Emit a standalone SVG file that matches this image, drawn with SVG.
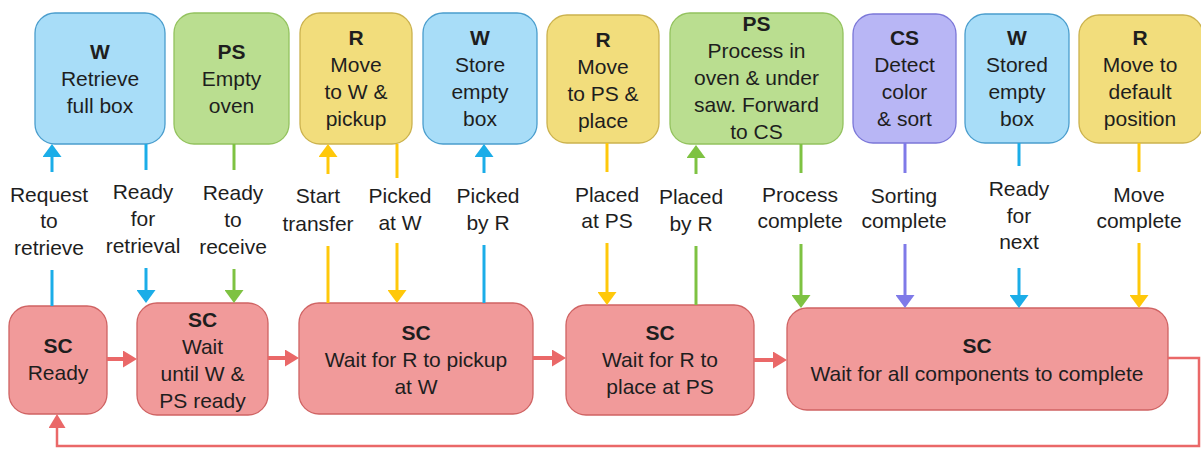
<svg xmlns="http://www.w3.org/2000/svg" width="1201" height="449" viewBox="0 0 1201 449">
<style>
text{font-family:"Liberation Sans",Arial,sans-serif;font-size:21px;fill:#1e1e1e;text-anchor:middle}
.b{font-weight:bold}
.w{fill:#A8DDF8;stroke:#4A9DCD;stroke-width:1.3}
.ps{fill:#BADE90;stroke:#93C25E;stroke-width:1.3}
.r{fill:#F2DD7C;stroke:#CBB24E;stroke-width:1.3}
.cs{fill:#B8B6F5;stroke:#7B77D8;stroke-width:1.3}
.sc{fill:#F19A9A;stroke:#CF6363;stroke-width:1.3}
.lb{stroke:#1BADE8;stroke-width:3;fill:none}
.lg{stroke:#7EC242;stroke-width:3;fill:none}
.ly{stroke:#FFC80A;stroke-width:3;fill:none}
.lp{stroke:#7F7AE8;stroke-width:3;fill:none}
.lr{stroke:#EA6868;stroke-width:4;fill:none}
.lf{stroke:#EA6868;stroke-width:2.5;fill:none}
</style>
<defs>
<marker id="mb" markerUnits="userSpaceOnUse" markerWidth="13" markerHeight="19" refX="3" refY="9.5" orient="auto"><path d="M0,0 L13,9.5 L0,19 z" fill="#1BADE8"/></marker>
<marker id="mg" markerUnits="userSpaceOnUse" markerWidth="13" markerHeight="19" refX="3" refY="9.5" orient="auto"><path d="M0,0 L13,9.5 L0,19 z" fill="#7EC242"/></marker>
<marker id="my" markerUnits="userSpaceOnUse" markerWidth="13" markerHeight="19" refX="3" refY="9.5" orient="auto"><path d="M0,0 L13,9.5 L0,19 z" fill="#FFC80A"/></marker>
<marker id="mp" markerUnits="userSpaceOnUse" markerWidth="13" markerHeight="19" refX="3" refY="9.5" orient="auto"><path d="M0,0 L13,9.5 L0,19 z" fill="#7F7AE8"/></marker>
<marker id="mr" markerUnits="userSpaceOnUse" markerWidth="14" markerHeight="17" refX="4" refY="8.5" orient="auto"><path d="M0,0 L14,8.5 L0,17 z" fill="#EA6868"/></marker>
</defs>

<g id="w1"><rect class="w" x="35" y="13" width="130" height="131" rx="20"/><text x="100" y="59" class="b">W</text><text x="100" y="86">Retrieve</text><text x="100" y="113">full box</text></g>
<g id="ps1"><rect class="ps" x="174" y="13" width="115" height="131" rx="20"/><text x="231.5" y="59" class="b">PS</text><text x="231.5" y="86">Empty</text><text x="231.5" y="113">oven</text></g>
<g id="r1"><rect class="r" x="300" y="13" width="112" height="131" rx="20"/><text x="356" y="45" class="b">R</text><text x="356" y="72">Move</text><text x="356" y="99">to W &amp;</text><text x="356" y="126">pickup</text></g>
<g id="w2"><rect class="w" x="423" y="13" width="114" height="131" rx="20"/><text x="480" y="45" class="b">W</text><text x="480" y="72">Store</text><text x="480" y="99">empty</text><text x="480" y="126">box</text></g>
<g id="r2"><rect class="r" x="547" y="15" width="112" height="128" rx="20"/><text x="603" y="47" class="b">R</text><text x="603" y="74">Move</text><text x="603" y="101">to PS &amp;</text><text x="603" y="128">place</text></g>
<g id="ps2"><rect class="ps" x="670" y="13" width="173" height="131" rx="20"/><text x="756.5" y="31" class="b">PS</text><text x="756.5" y="58">Process in</text><text x="756.5" y="85">oven &amp; under</text><text x="756.5" y="112">saw. Forward</text><text x="756.5" y="139">to CS</text></g>
<g id="cs1"><rect class="cs" x="853" y="14" width="103" height="129" rx="20"/><text x="904.5" y="45" class="b">CS</text><text x="904.5" y="72">Detect</text><text x="904.5" y="99">color</text><text x="904.5" y="126">&amp; sort</text></g>
<g id="w3"><rect class="w" x="965" y="14" width="104" height="129" rx="20"/><text x="1017" y="45" class="b">W</text><text x="1017" y="72">Stored</text><text x="1017" y="99">empty</text><text x="1017" y="126">box</text></g>
<g id="r3"><rect class="r" x="1079" y="15" width="124" height="128" rx="20"/><text x="1140" y="45" class="b">R</text><text x="1140" y="72">Move to</text><text x="1140" y="99">default</text><text x="1140" y="126">position</text></g>

<g id="sc1"><rect class="sc" x="9" y="306" width="98" height="108" rx="20"/><text x="58" y="353" class="b">SC</text><text x="58" y="380">Ready</text></g>
<g id="sc2"><rect class="sc" x="137" y="303" width="131" height="112" rx="20"/><text x="202.5" y="327" class="b">SC</text><text x="202.5" y="354">Wait</text><text x="202.5" y="381">until W &amp;</text><text x="202.5" y="408">PS ready</text></g>
<g id="sc3"><rect class="sc" x="299" y="303" width="234" height="111" rx="20"/><text x="416" y="340" class="b">SC</text><text x="416" y="367">Wait for R to pickup</text><text x="416" y="394">at W</text></g>
<g id="sc4"><rect class="sc" x="566" y="305" width="188" height="110" rx="20"/><text x="660" y="340" class="b">SC</text><text x="660" y="367">Wait for R to</text><text x="660" y="394">place at PS</text></g>
<g id="sc5"><rect class="sc" x="787" y="308" width="381" height="102" rx="20"/><text x="977" y="353" class="b">SC</text><text x="977" y="381">Wait for all components to complete</text></g>

<g id="connectors">
<line class="lb" x1="52" y1="172" x2="52" y2="154" marker-end="url(#mb)"/><line class="lb" x1="52" y1="270" x2="52" y2="306"/>
<line class="lb" x1="146" y1="144" x2="146" y2="170"/><line class="lb" x1="146" y1="268" x2="146" y2="293" marker-end="url(#mb)"/>
<line class="lg" x1="234" y1="144" x2="234" y2="170"/><line class="lg" x1="234" y1="269" x2="234" y2="293" marker-end="url(#mg)"/>
<line class="ly" x1="328" y1="174" x2="328" y2="154" marker-end="url(#my)"/><line class="ly" x1="328" y1="246" x2="328" y2="303"/>
<line class="ly" x1="397" y1="144" x2="397" y2="178"/><line class="ly" x1="397" y1="243" x2="397" y2="293" marker-end="url(#my)"/>
<line class="lb" x1="484" y1="173" x2="484" y2="154" marker-end="url(#mb)"/><line class="lb" x1="484" y1="245" x2="484" y2="303"/>
<line class="ly" x1="607" y1="143" x2="607" y2="172"/><line class="ly" x1="607" y1="243" x2="607" y2="295" marker-end="url(#my)"/>
<line class="lg" x1="696" y1="174" x2="696" y2="155" marker-end="url(#mg)"/><line class="lg" x1="696" y1="246" x2="696" y2="305"/>
<line class="lg" x1="801" y1="144" x2="801" y2="173"/><line class="lg" x1="801" y1="244" x2="801" y2="298" marker-end="url(#mg)"/>
<line class="lp" x1="905" y1="143" x2="905" y2="173"/><line class="lp" x1="905" y1="244" x2="905" y2="298" marker-end="url(#mp)"/>
<line class="lb" x1="1019" y1="143" x2="1019" y2="166"/><line class="lb" x1="1019" y1="268" x2="1019" y2="298" marker-end="url(#mb)"/>
<line class="ly" x1="1139" y1="143" x2="1139" y2="172"/><line class="ly" x1="1139" y1="243" x2="1139" y2="298" marker-end="url(#my)"/>
<line class="lr" x1="107" y1="359" x2="127" y2="359" marker-end="url(#mr)"/>
<line class="lr" x1="268" y1="358" x2="289" y2="358" marker-end="url(#mr)"/>
<line class="lr" x1="533" y1="358" x2="556" y2="358" marker-end="url(#mr)"/>
<line class="lr" x1="754" y1="360" x2="777" y2="360" marker-end="url(#mr)"/>
<path class="lf" d="M1168,358 H1199 V446 H57 V424" marker-end="url(#mr)"/>
<text x="49" y="202">Request</text><text x="49" y="228">to</text><text x="49" y="255">retrieve</text>
<text x="143" y="199">Ready</text><text x="143" y="226">for</text><text x="143" y="253">retrieval</text>
<text x="233" y="200">Ready</text><text x="233" y="227">to</text><text x="233" y="254">receive</text>
<text x="318" y="203">Start</text><text x="318" y="231">transfer</text>
<text x="400" y="203">Picked</text><text x="400" y="230">at W</text>
<text x="488" y="203">Picked</text><text x="488" y="230">by R</text>
<text x="607" y="202">Placed</text><text x="607" y="228">at PS</text>
<text x="691" y="204">Placed</text><text x="691" y="231">by R</text>
<text x="800" y="202">Process</text><text x="800" y="228">complete</text>
<text x="904" y="203">Sorting</text><text x="904" y="228">complete</text>
<text x="1019" y="196">Ready</text><text x="1019" y="223">for</text><text x="1019" y="249">next</text>
<text x="1139" y="202">Move</text><text x="1139" y="228">complete</text>
</g>
</svg>
